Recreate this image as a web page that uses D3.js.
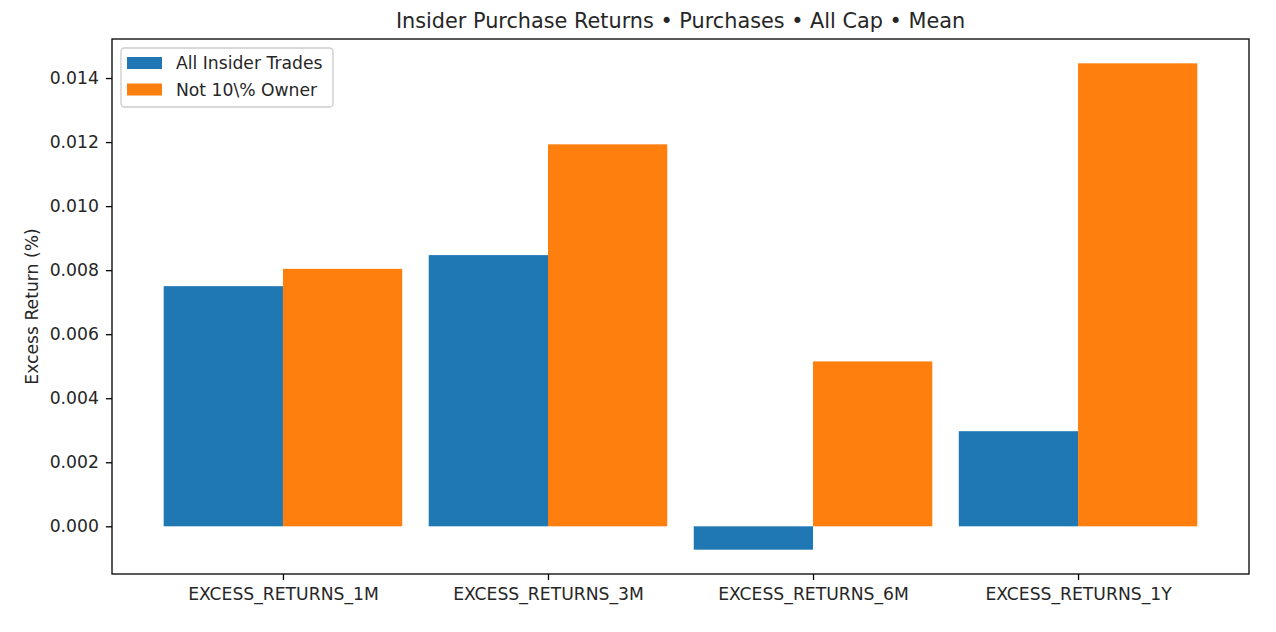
<!DOCTYPE html>
<html>
<head>
<meta charset="utf-8">
<script src="https://cdn.jsdelivr.net/npm/d3@7"></script>
<style>
body{margin:0;background:#fff;}
text{font-family:"DejaVu Sans",sans-serif;fill:#262626;}
</style>
</head>
<body>
<svg id="chart" width="1276" height="632"></svg>
<script>
const categories = ["EXCESS_RETURNS_1M","EXCESS_RETURNS_3M","EXCESS_RETURNS_6M","EXCESS_RETURNS_1Y"];
const seriesNames = ["All Insider Trades","Not 10\\% Owner"];
const allInsider = [0.00750, 0.00847, -0.00073, 0.00297];
const not10Owner = [0.00804, 0.01193, 0.00515, 0.01446];
const yTicks = [0.000,0.002,0.004,0.006,0.008,0.010,0.012,0.014];
const colors = ["#1f77b4","#ff7f0e"];
const title = "Insider Purchase Returns • Purchases • All Cap • Mean";
const yLabel = "Excess Return (%)";

const svg = d3.select("#chart");
const L=112, R=1249, T=39, B=574;
const barW = 0.45;
const series = [allInsider, not10Owner];
const FS = 17.2;

const allVals = allInsider.concat(not10Owner, [0]);
let ymin = d3.min(allVals), ymax = d3.max(allVals);
const pad = (ymax-ymin)*0.05;
const y = d3.scaleLinear().domain([ymin-pad, ymax+pad]).range([B,T]);
const xmin = -barW, xmax = categories.length-1+barW;
const xpad = (xmax-xmin)*0.05;
const x = d3.scaleLinear().domain([xmin-xpad, xmax+xpad]).range([L,R]);

// bars
series.forEach((vals,si)=>{
  svg.append("g").selectAll("rect").data(vals).join("rect")
    .attr("x",(d,i)=> x(i + (si===0 ? -barW : 0)))
    .attr("width", x(barW)-x(0))
    .attr("y", d=> y(Math.max(d,0)))
    .attr("height", d=> Math.abs(y(d)-y(0)))
    .attr("fill", colors[si]);
});

// axes
const yAxis = d3.axisLeft(y).tickValues(yTicks).tickFormat(d3.format(".3f")).tickSize(6.1).tickPadding(7);
const gy = svg.append("g").attr("transform",`translate(${L},0)`).call(yAxis);
const xAxis = d3.axisBottom(x).tickValues(d3.range(categories.length)).tickFormat(i=>categories[i]).tickSize(6.1).tickPadding(8);
const gx = svg.append("g").attr("transform",`translate(0,${B})`).call(xAxis);
[gy,gx].forEach(g=>{
  g.select(".domain").remove();
  g.selectAll(".tick line").attr("stroke","#000").attr("stroke-width",1.3);
  g.selectAll(".tick text").attr("font-size",FS+"px").attr("font-family","DejaVu Sans").attr("fill","#262626");
});

// frame
svg.append("rect").attr("x",L).attr("y",T).attr("width",R-L).attr("height",B-T)
  .attr("fill","none").attr("stroke","#000").attr("stroke-width",1.3);

// title
svg.append("text").attr("x",(L+R)/2).attr("y",28).attr("text-anchor","middle")
  .attr("font-size","20.8px").text(title);

// y label
svg.append("text").attr("transform",`translate(38,${(T+B)/2}) rotate(-90)`)
  .attr("text-anchor","middle").attr("font-size",FS+"px").text(yLabel);

// legend
const lg = svg.append("g").attr("transform",`translate(121,48)`);
lg.append("rect").attr("width",212).attr("height",59).attr("rx",3.5).attr("ry",3.5)
  .attr("fill","#fff").attr("fill-opacity",0.8).attr("stroke","#cccccc").attr("stroke-width",1.3);
seriesNames.forEach((n,i)=>{
  lg.append("rect").attr("x",6).attr("y",9+i*26.5).attr("width",35).attr("height",12).attr("fill",colors[i]);
  lg.append("text").attr("x",55).attr("y",21+i*26.5).attr("font-size",FS+"px").text(n);
});
</script>
</body>
</html>
